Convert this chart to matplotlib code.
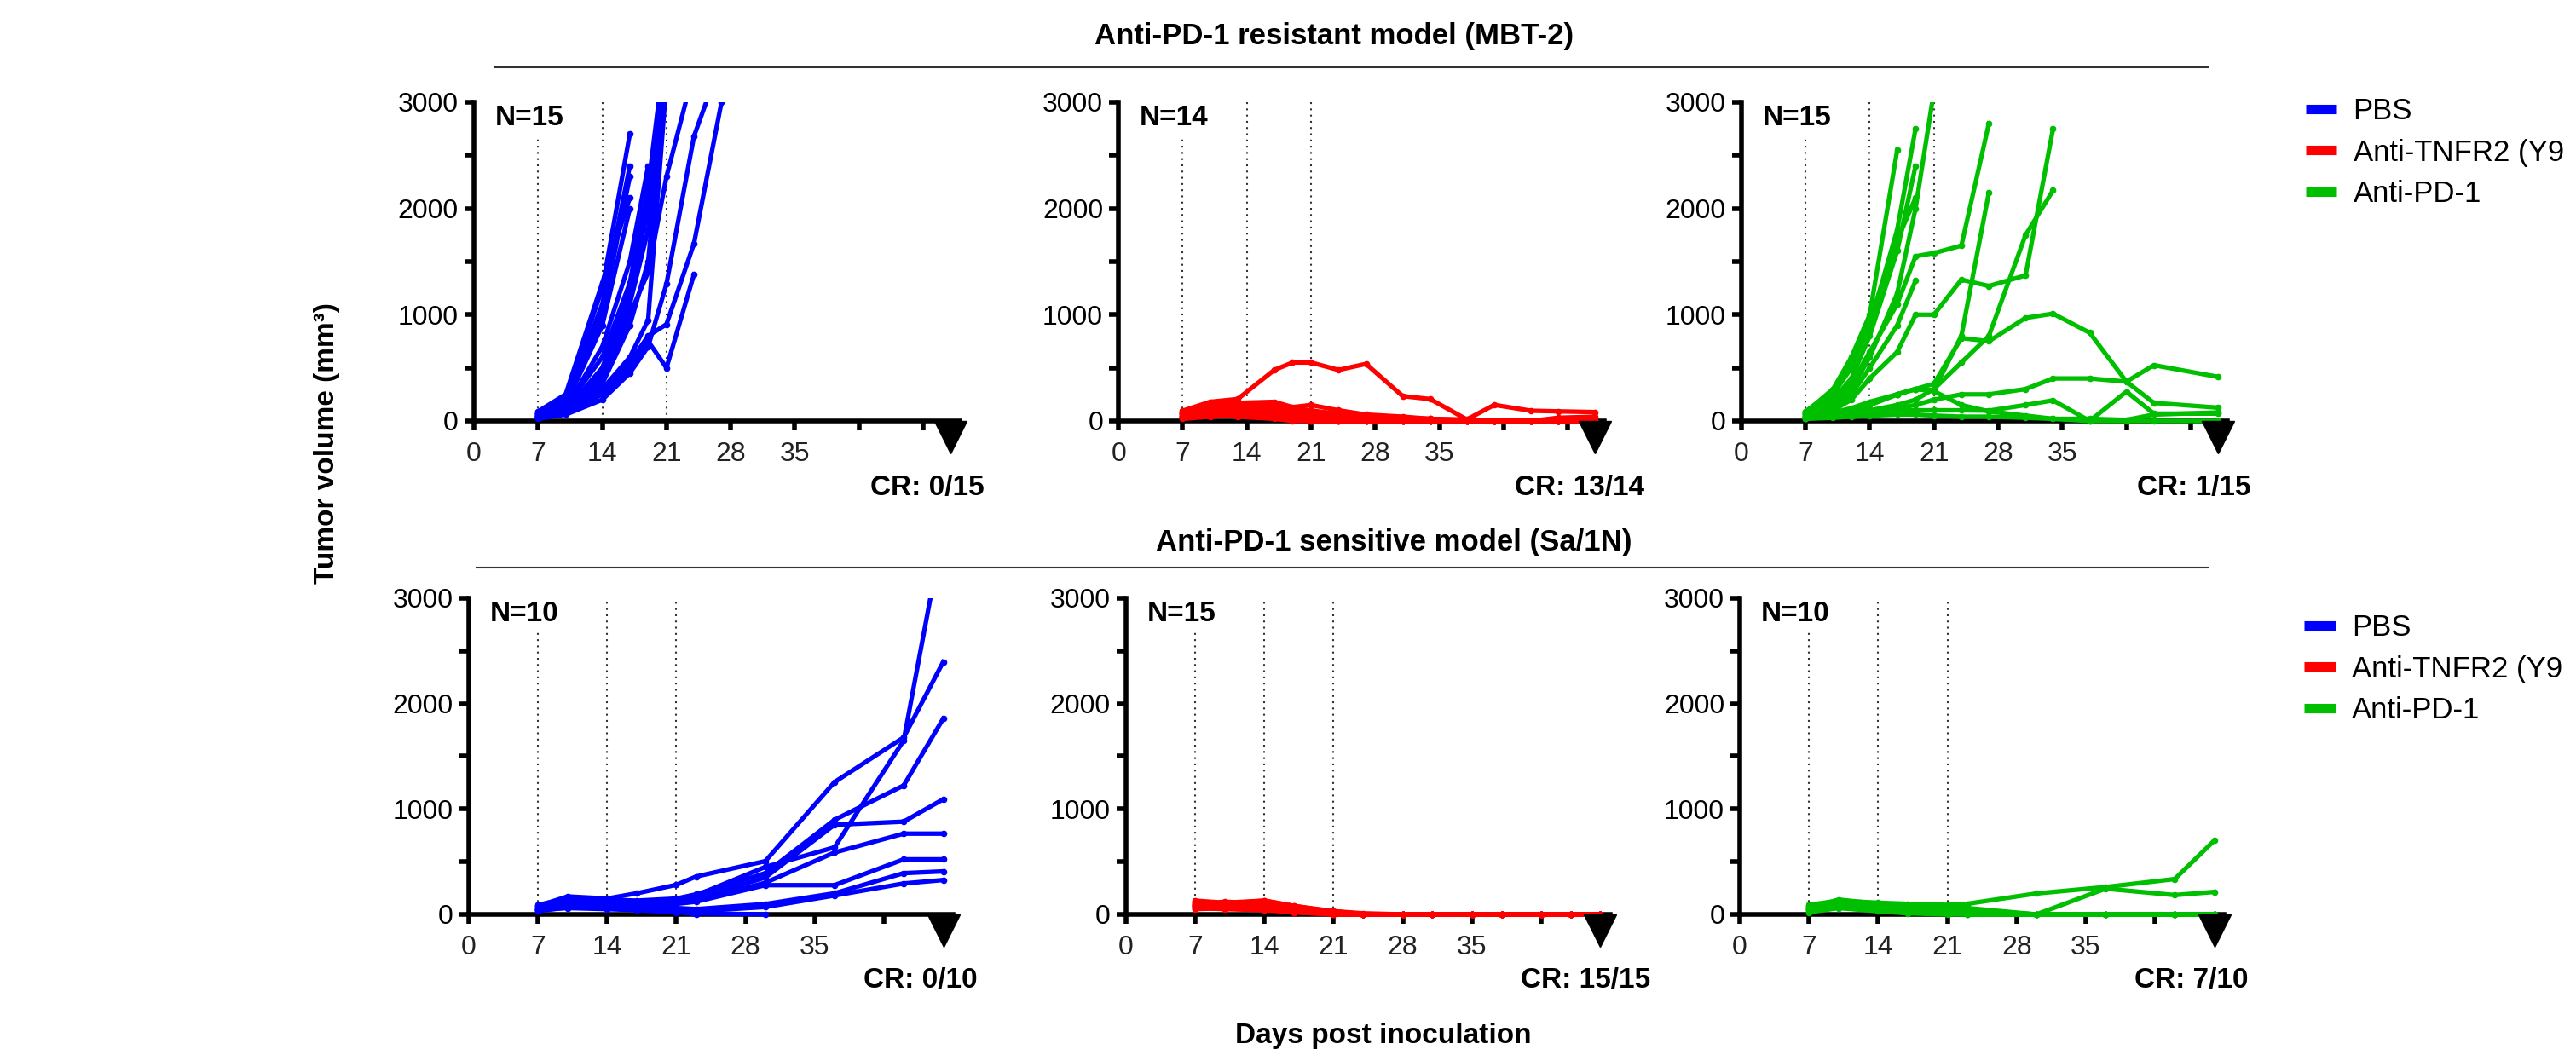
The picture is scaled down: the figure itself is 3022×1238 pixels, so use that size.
import numpy as np
import matplotlib
matplotlib.use('Agg')
import matplotlib.pyplot as plt
from matplotlib.lines import Line2D
from matplotlib.patches import Rectangle

plt.rcParams['font.family'] = ['Liberation Sans', 'DejaVu Sans']

nan = np.nan

# ---- MBT-2 (anti-PD-1 resistant) ----
days_mbt_pbs = [7, 10, 14, 17, 19, 21, 24, 27]
mbt_pbs = [
    [80, 230, 1250, 2700],
    [60, 200, 1100, 2400],
    [70, 180, 1000, 2300],
    [90, 250, 1300, 2100],
    [50, 150, 900, 2000],
    [60, 120, 700, 1500, 2400],
    [40, 100, 500, 1200, 2000, 3400],
    [50, 130, 600, 1300, 2200, 3600],
    [30, 90, 350, 900, 1500, 3300],
    [40, 80, 300, 600, 950, 3200],
    [30, 70, 250, 500, 750, 500, 1380],
    [40, 90, 280, 550, 800, 910, 1670, 3000],
    [20, 60, 200, 450, 700, 1290, 2680, 3400],
    [60, 140, 450, 1100, 1800, 3200],
    [50, 110, 400, 1000, 1400, 2300, 3300],
]

days_mbt_tnfr2 = [7, 10, 13, 17, 19, 21, 24, 27, 31, 34, 38, 41, 45, 48, 52]
mbt_tnfr2 = [
    [96, 180, 206, 480, 550, 550, 480, 537, 234, 206, 14, 151, 96, 90, 83],
    [80, 150, 170, 180, 130, 150, 100, 60, 40, 20, 10, 0, 0, 0, 0],
    [60, 120, 150, 160, 120, 100, 60, 40, 20, 0, 0, 0, 0, 0, 0],
    [70, 100, 140, 130, 100, 80, 50, 30, 10, 0, 0, 0, 0, 0, 0],
    [50, 90, 110, 100, 70, 50, 30, 10, 0, 0, 0, 0, 0, 0, 0],
    [40, 80, 90, 80, 60, 30, 10, 0, 0, 0, 0, 0, 0, 0, 0],
    [90, 130, 120, 90, 60, 40, 20, 0, 0, 0, 0, 0, 0, 0, 0],
    [30, 60, 70, 50, 30, 10, 0, 0, 0, 0, 0, 0, 0, 0, 0],
    [60, 70, 60, 40, 20, 0, 0, 0, 0, 0, 0, 0, 0, 0, 0],
    [20, 40, 50, 40, 20, 0, 0, 0, 0, 0, 0, 0, 0, 0, 0],
    [50, 80, 100, 120, 90, 70, 40, 20, 10, 0, 0, 0, 0, 0, 0],
    [40, 60, 40, 20, 0, 0, 0, 0, 0, 0, 0, 0, 0, 0, 0],
    [70, 110, 130, 150, 120, 90, 70, 50, 30, 20, 10, 0, 0, 30, 40],
    [30, 50, 60, 50, 40, 30, 20, 10, 0, 0, 0, 0, 0, 0, 0],
]

days_mbt_pd1 = [7, 10, 12, 14, 17, 19, 21, 24, 27, 31, 34, 38, 42, 45, 52]
mbt_pd1 = [
    [80, 300, 600, 1000, 2550],
    [60, 250, 500, 900, 1800, 2750],
    [70, 200, 400, 800, 1600, 2400],
    [90, 280, 550, 950, 1700, 2100],
    [50, 150, 300, 600, 1200, 2000, 3100],
    [40, 120, 250, 500, 900, 1320],
    [60, 180, 350, 650, 1100, 1550, 1580, 1650, 2800],
    [30, 100, 200, 400, 650, 1000, 1000, 1330, 1270, 1370, 2750],
    [20, 60, 100, 150, 250, 300, 290, 800, 2150],
    [20, 50, 80, 100, 150, 200, 300, 550, 800, 1750, 2170],
    [20, 60, 100, 150, 250, 300, 350, 780, 750, 970, 1010, 830, 370, 170, 125],
    [40, 60, 80, 100, 120, 150, 200, 250, 250, 300, 400, 400, 370, 525, 415],
    [30, 50, 60, 80, 100, 100, 100, 100, 97, 150, 194, 0, 276, 69, 69],
    [50, 80, 120, 180, 250, 300, 280, 150, 90, 50, 20, 0, 0, 0, 0],
    [20, 30, 40, 50, 60, 60, 50, 40, 40, 30, 20, 20, 10, 60, 80],
]

# ---- Sa/1N (anti-PD-1 sensitive) ----
days_sa_pbs = [7, 10, 14, 17, 21, 23, 30, 37, 44, 48]
sa_pbs = [
    [80, 170, 150, 200, 280, 359, 505, 1255, 1679, 2396],
    [70, 160, 130, 120, 140, 180, 450, 636, 1650, 3650],
    [90, 150, 140, 130, 150, 190, 391, 897, 1223, 1858],
    [60, 140, 120, 110, 120, 150, 350, 850, 880, 1092],
    [50, 120, 110, 100, 110, 130, 300, 587, 766, 766],
    [40, 100, 100, 90, 100, 120, 277, 277, 522, 522],
    [50, 90, 80, 70, 60, 50, 98, 200, 391, 408],
    [30, 70, 60, 50, 40, 30, 70, 179, 293, 326],
    [60, 90, 80, 60, 30, 0],
    [40, 60, 50, 40, 20, 10, 0],
]

days_sa_tnfr2 = [7, 10, 14, 17, 21, 24, 28, 31, 35, 38, 42, 45, 48]
sa_tnfr2 = [
    [110, 100, 120, 60, 10, 0, 0, 0, 0, 0, 0, 0, 0],
    [130, 110, 130, 80, 20, 0, 0, 0, 0, 0, 0, 0, 0],
    [90, 120, 100, 70, 30, 0, 0, 0, 0, 0, 0, 0, 0],
    [80, 90, 110, 50, 10, 0, 0, 0, 0, 0, 0, 0, 0],
    [120, 100, 90, 60, 20, 0, 0, 0, 0, 0, 0, 0, 0],
    [70, 80, 100, 40, 0, 0, 0, 0, 0, 0, 0, 0, 0],
    [100, 110, 120, 70, 20, 0, 0, 0, 0, 0, 0, 0, 0],
    [60, 70, 80, 30, 0, 0, 0, 0, 0, 0, 0, 0, 0],
    [50, 60, 70, 30, 10, 0, 0, 0, 0, 0, 0, 0, 0],
    [110, 90, 100, 50, 10, 0, 0, 0, 0, 0, 0, 0, 0],
    [90, 100, 130, 80, 30, 10, 0, 0, 0, 0, 0, 0, 0],
    [70, 60, 60, 20, 0, 0, 0, 0, 0, 0, 0, 0, 0],
    [100, 80, 90, 40, 10, 0, 0, 0, 0, 0, 0, 0, 0],
    [60, 50, 40, 20, 0, 0, 0, 0, 0, 0, 0, 0, 0],
    [80, 70, 110, 60, 20, 0, 0, 0, 0, 0, 0, 0, 0],
]

days_sa_pd1 = [7, 10, 14, 17, 21, 23, 30, 37, 44, 48]
sa_pd1 = [
    [90, 130, 110, 100, 90, 100, 198, 259, 335, 700],
    [70, 120, 100, 90, 80, 60, 0, 244, 183, 213],
    [60, 140, 100, 80, 60, 40, 0, 0, 0, 0],
    [50, 110, 90, 70, 50, 30, 0, 0, 0, 0],
    [80, 100, 80, 60, 40, 20, 0, 0, 0, 0],
    [40, 90, 60, 40, 20, 0, 0, 0, 0, 0],
    [30, 80, 50, 30, 10, 0, 0, 0, 0, 0],
    [60, 120, 70, 50, 30, 10, 0, 0, 0, 0],
    [20, 60, 30, 10, 0, 0, 0, 0, 0, 0],
    [50, 100, 60, 40, 20, 10, 0, 0, 0, 0],
]

# the reference crops the second legend entry at the right edge
groups = ['PBS', 'Anti-TNFR2 (Y9', 'Anti-PD-1']
colors = ['#0000FF', '#FF0000', '#00BF00']
n_labels_top = ['N=15', 'N=14', 'N=15']
cr_labels_top = ['CR: 0/15', 'CR: 13/14', 'CR: 1/15']
n_labels_bot = ['N=10', 'N=15', 'N=10']
cr_labels_bot = ['CR: 0/10', 'CR: 15/15', 'CR: 7/10']


def pad(rows, n):
    return np.array([list(r) + [nan] * (n - len(r)) for r in rows], dtype=float)


def panel(ax, days, vals, color, n_txt, cr_txt, xmax, tri_x):
    days = np.array(days, dtype=float)
    clip = Rectangle((-0.1, -0.1), 1.2, 1.1, transform=ax.transAxes)
    for row in pad(vals, len(days)):
        ln, = ax.plot(days, row, color=color, lw=3.8, marker='o', ms=4.5,
                      zorder=3)
        ln.set_clip_path(clip)
    ax.vlines([7, 14, 21], 0, [2680, 3000, 3000], colors='#333333',
              linestyles=(0, (1, 2.5)), lw=1.5, zorder=1)
    ax.set_xlim(0, xmax)
    ax.set_ylim(0, 3000)
    for s in ['top', 'right']:
        ax.spines[s].set_visible(False)
    for s in ['left', 'bottom']:
        ax.spines[s].set_linewidth(4)
    ax.set_xticks([0, 7, 14, 21, 28, 35, 42, 49])
    ax.set_xticklabels(['0', '7', '14', '21', '28', '35', '', ''])
    ax.set_yticks([0, 1000, 2000, 3000])
    ax.set_yticks([500, 1500, 2500], minor=True)
    ax.tick_params(which='both', length=8, width=4)
    ax.tick_params(axis='y', labelsize=23, pad=5)
    ax.tick_params(axis='x', labelsize=23, pad=9, labelcolor='#222222')
    ax.plot([tri_x], [-150], marker='v', ms=28, color='k', clip_on=False,
            zorder=5)
    ax.text(0.043 * xmax, 2850, n_txt, fontsize=24, fontweight='bold',
            va='center', ha='left')
    ax.text(0.815, -0.21, cr_txt, transform=ax.transAxes, fontsize=24,
            fontweight='bold', va='center', ha='left')


fig = plt.figure(figsize=(30.22, 12.38), dpi=100)

top_lefts = [0.1840, 0.4342, 0.6760]
bot_lefts = [0.1820, 0.4371, 0.6754]
top_data = [(days_mbt_pbs, mbt_pbs), (days_mbt_tnfr2, mbt_tnfr2),
            (days_mbt_pd1, mbt_pd1)]
bot_data = [(days_sa_pbs, sa_pbs), (days_sa_tnfr2, sa_tnfr2),
            (days_sa_pd1, sa_pd1)]

top_axes = []
for i in range(3):
    ax = fig.add_axes([top_lefts[i], 0.6010, 0.1886, 0.3021])
    panel(ax, top_data[i][0], top_data[i][1], colors[i], n_labels_top[i],
          cr_labels_top[i], 53, 52)
    top_axes.append(ax)

bot_axes = []
for i in range(3):
    ax = fig.add_axes([bot_lefts[i], 0.1333, 0.1880, 0.2997])
    panel(ax, bot_data[i][0], bot_data[i][1], colors[i], n_labels_bot[i],
          cr_labels_bot[i], 49, 48)
    bot_axes.append(ax)

handles = [Line2D([], [], color=c, lw=8, solid_capstyle='butt') for c in colors]
for ax, anchor in [(top_axes[2], (0.8951, 0.9080)), (bot_axes[2], (0.8945, 0.4185))]:
    ax.legend(handles, groups, loc='upper left', bbox_to_anchor=anchor,
              bbox_transform=fig.transFigure, frameon=False, fontsize=25,
              handlelength=1.05, handletextpad=0.55, labelspacing=0.45,
              borderpad=0, borderaxespad=0)

# section headers
fig.text(0.518, 0.966, 'Anti-PD-1 resistant model (MBT-2)', fontsize=25,
         fontweight='bold', ha='center', va='center')
fig.add_artist(Line2D([580 / 3022, 2590 / 3022], [1 - 79 / 1238] * 2,
                      transform=fig.transFigure, color='#333333', lw=1.5))
fig.text(0.541, 0.486, 'Anti-PD-1 sensitive model (Sa/1N)', fontsize=25,
         fontweight='bold', ha='center', va='center')
fig.add_artist(Line2D([559 / 3022, 2590 / 3022], [1 - 666 / 1238] * 2,
                      transform=fig.transFigure, color='#333333', lw=1.5))

fig.text(0.127, 0.58, 'Tumor volume (mm³)', fontsize=24, fontweight='bold',
         rotation=90, ha='center', va='center')
fig.text(0.537, 0.0178, 'Days post inoculation', fontsize=24,
         fontweight='bold', ha='center', va='center')

fig.savefig('out.png', dpi=100)
